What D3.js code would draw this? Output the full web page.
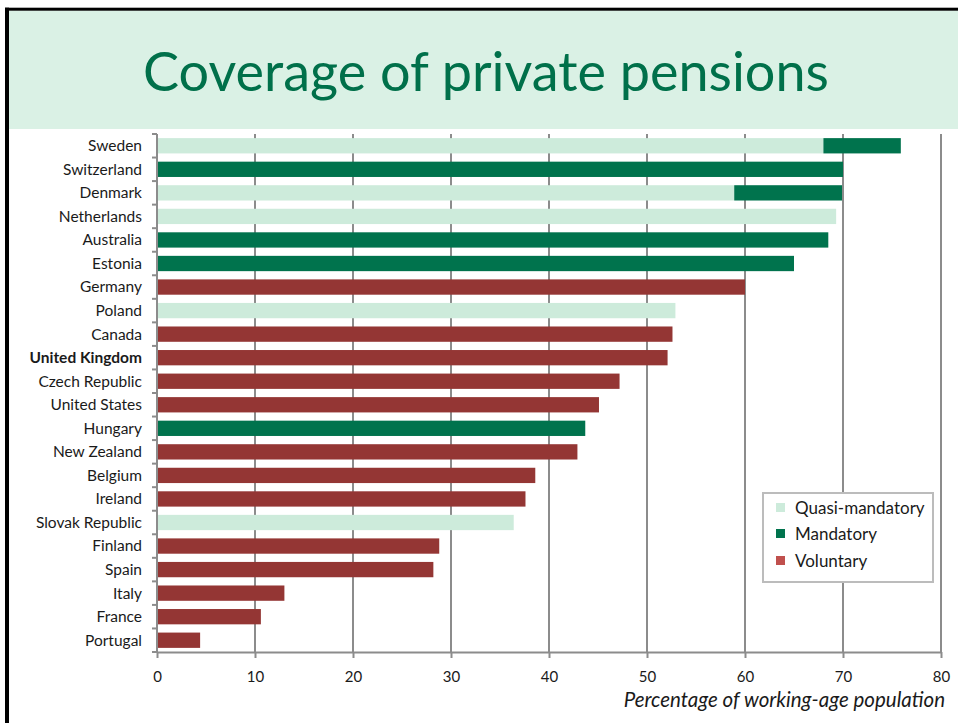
<!DOCTYPE html>
<html>
<head>
<meta charset="utf-8">
<script src="https://cdn.jsdelivr.net/npm/d3@7"></script>
<style>
  html, body { margin: 0; padding: 0; background: #fff; }
  svg { display: block; }
</style>
</head>
<body>
<svg id="chart" width="958" height="723"></svg>
<script>
// Coverage of private pensions by country (% of working-age population)
const countries = ["Sweden", "Switzerland", "Denmark", "Netherlands", "Australia", "Estonia",
  "Germany", "Poland", "Canada", "United Kingdom", "Czech Republic", "United States",
  "Hungary", "New Zealand", "Belgium", "Ireland", "Slovak Republic", "Finland",
  "Spain", "Italy", "France", "Portugal"];
const quasiMandatory = [68, 0, 58.9, 69.3, 0, 0, 0, 52.9, 0, 0, 0, 0, 0, 0, 0, 0, 36.4, 0, 0, 0, 0, 0];
const mandatory      = [7.9, 70, 11, 0, 68.5, 65, 0, 0, 0, 0, 0, 0, 43.7, 0, 0, 0, 0, 0, 0, 0, 0, 0];
const voluntary      = [0, 0, 0, 0, 0, 0, 60, 0, 52.6, 52.1, 47.2, 45.1, 0, 42.9, 38.6, 37.6, 0, 28.8, 28.2, 13, 10.6, 4.4];
const seriesNames = ["Quasi-mandatory", "Mandatory", "Voluntary"];
const xTicks = [0, 10, 20, 30, 40, 50, 60, 70, 80];

(function () {
  const barColors = ["#cdebdb", "#00734d", "#943634"];
  const legendColors = ["#cdebdb", "#00734d", "#c0504d"];
  const font = "Lato, 'Open Sans', sans-serif";

  const svg = d3.select("#chart");

  // slide frame and title band
  svg.append("rect").attr("x", 9).attr("y", 10.5).attr("width", 949).attr("height", 118.5)
    .attr("fill", "#daf1e5");
  svg.append("rect").attr("x", 5).attr("y", 7.7).attr("width", 953).attr("height", 3).attr("fill", "#000");
  svg.append("rect").attr("x", 5).attr("y", 7.7).attr("width", 4).attr("height", 716).attr("fill", "#000");

  const title = svg.append("text")
    .attr("x", 486).attr("y", 91)
    .attr("text-anchor", "middle")
    .attr("fill", "#00704a")
    .style("font-family", font)
    .style("font-size", "54px")
    .text("Coverage of private pensions");
  // size the title to span the band
  const tw = title.node().getComputedTextLength();
  title.style("font-size", (54 * 686 / tw) + "px");

  // plot area
  const pl = 157, pr = 941, pt = 134, pb = 652;
  const x = d3.scaleLinear().domain([0, 80]).range([pl, pr]);
  const y = d3.scaleBand().domain(countries).range([pt, pb]).paddingInner(0.35).paddingOuter(0.175);

  // vertical gridlines
  svg.append("g").selectAll("line").data(xTicks.slice(1)).join("line")
    .attr("x1", d => x(d)).attr("x2", d => x(d))
    .attr("y1", pt).attr("y2", pb)
    .attr("stroke", "#8c8c8c").attr("stroke-width", 2);

  // stacked bars
  const rows = countries.map((c, i) => ({ c, v: [quasiMandatory[i], mandatory[i], voluntary[i]] }));
  const stack = d3.stack().keys([0, 1, 2]).value((d, k) => d.v[k]);
  const layers = stack(rows);

  svg.append("g").selectAll("g").data(layers).join("g")
    .attr("fill", (d, i) => barColors[i])
    .selectAll("rect").data(d => d.filter(p => p[1] - p[0] > 0)).join("rect")
    .attr("x", d => x(d[0]))
    .attr("y", d => y(d.data.c))
    .attr("width", d => x(d[1]) - x(d[0]))
    .attr("height", y.bandwidth());

  // y axis
  const yAxis = svg.append("g").attr("transform", `translate(${pl},0)`);
  yAxis.append("line").attr("x1", 0).attr("x2", 0).attr("y1", pt).attr("y2", pb)
    .attr("stroke", "#8c8c8c").attr("stroke-width", 2);
  const step = (pb - pt) / countries.length;
  yAxis.selectAll("line.tick").data(d3.range(countries.length + 1)).join("line")
    .attr("class", "tick")
    .attr("x1", -5).attr("x2", 0)
    .attr("y1", i => pt + i * step)
    .attr("y2", i => pt + i * step)
    .attr("stroke", "#8c8c8c").attr("stroke-width", 2);
  yAxis.selectAll("text").data(countries).join("text")
    .attr("x", -15)
    .attr("y", d => y(d) + y.bandwidth() / 2)
    .attr("dy", "0.35em")
    .attr("text-anchor", "end")
    .attr("fill", "#1a1a1a")
    .style("font-family", font)
    .style("font-size", "15.5px")
    .style("font-weight", d => d === "United Kingdom" ? "bold" : "normal")
    .text(d => d);

  // x axis
  const xAxis = svg.append("g").attr("transform", `translate(0,${pb})`)
    .call(d3.axisBottom(x).tickValues(xTicks).tickSize(6).tickPadding(13).tickSizeOuter(0));
  xAxis.select(".domain").attr("stroke", "#8c8c8c").attr("stroke-width", 2);
  xAxis.selectAll(".tick line").attr("stroke", "#8c8c8c").attr("stroke-width", 2);
  xAxis.selectAll(".tick text")
    .attr("fill", "#1a1a1a")
    .style("font-family", font)
    .style("font-size", "15px");

  svg.append("text")
    .attr("x", 945).attr("y", 707)
    .attr("text-anchor", "end")
    .attr("fill", "#1a1a1a")
    .style("font-family", font)
    .style("font-size", "20.5px")
    .style("font-style", "italic")
    .text("Percentage of working-age population");

  // legend
  const lg = svg.append("g").attr("transform", "translate(763,493)");
  lg.append("rect").attr("width", 170).attr("height", 89)
    .attr("fill", "#fff").attr("stroke", "#bcbcbc").attr("stroke-width", 2);
  const items = lg.selectAll("g").data(seriesNames).join("g")
    .attr("transform", (d, i) => `translate(0,${[15, 41, 68][i]})`);
  items.append("rect").attr("x", 13).attr("y", -5).attr("width", 9).attr("height", 9)
    .attr("fill", (d, i) => legendColors[i]);
  items.append("text").attr("x", 32).attr("y", 0).attr("dy", "0.35em")
    .attr("fill", "#1a1a1a")
    .style("font-family", font)
    .style("font-size", "17px")
    .text(d => d);
})();
</script>
</body>
</html>
